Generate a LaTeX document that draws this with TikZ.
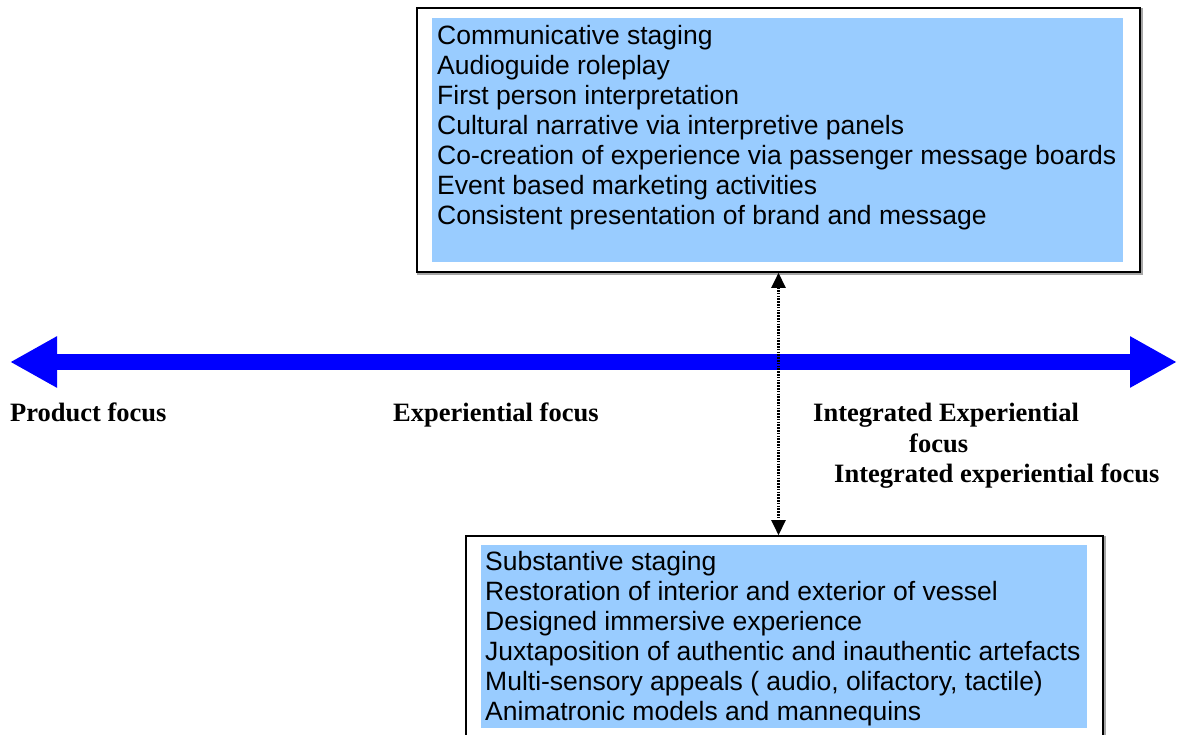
\documentclass[tikz,border=0pt]{standalone}
\usepackage{fontspec}
\setmainfont{Liberation Serif}
\setsansfont{Liberation Sans}
\usetikzlibrary{arrows.meta,positioning}
\definecolor{stagefill}{RGB}{153,204,255}
\definecolor{axisblue}{RGB}{0,0,255}
\tikzset{
  framebox/.style={draw=black, line width=1.6pt, inner sep=0pt},
  shadowline/.style={draw=black!35, line width=1.2pt},
  stagefillbox/.style={fill=stagefill, inner sep=0pt},
  itemtext/.style={anchor=base west, inner sep=0pt, font=\sffamily\fontsize{26.5}{30}\selectfont},
  focuslabel/.style={anchor=base west, inner sep=0pt, font=\bfseries\fontsize{26.5}{30}\selectfont},
  axisarrow/.style={axisblue, line width=16pt,
    {Triangle[length=47pt,width=48pt]}-{Triangle[length=47pt,width=48pt]}},
  link/.style={dash pattern=on 1.6pt off 1.2pt, line width=2.4pt,
    {Triangle[length=15pt,width=14pt]}-{Triangle[length=15pt,width=14pt]}}
}
\begin{document}
\begin{tikzpicture}[x=1pt, y=-1pt]
  \useasboundingbox (0,0) rectangle (1177,735);

  % the two staging boxes
  \node[framebox, minimum width=723pt, minimum height=264pt] (commbox) at (778.5,140) {};
  \node[framebox, minimum width=637pt, minimum height=230pt] (substbox) at (784.5,651) {};
  \draw[shadowline] ([shift={(1.2,1)}]commbox.north east) -- ([shift={(1.2,1.2)}]commbox.south east) -- ([shift={(1,1.2)}]commbox.south west);
  \draw[shadowline] ([shift={(1.2,1)}]substbox.north east) -- ([shift={(1.2,1.2)}]substbox.south east);
  \node[stagefillbox, minimum width=691pt, minimum height=244pt] (commfill) at (777.5,140) {};
  \node[stagefillbox, minimum width=606pt, minimum height=183pt] (substfill) at (784,636.5) {};

  \foreach \t [count=\i] in {Communicative staging, Audioguide roleplay,
      First person interpretation, Cultural narrative via interpretive panels,
      Co-creation of experience via passenger message boards,
      Event based marketing activities, Consistent presentation of brand and message} {
    \node[itemtext] (comm-\i) at (437,{45+30*(\i-1)}) {\t};
  }

  \foreach \t [count=\i] in {Substantive staging, Restoration of interior and exterior of vessel,
      Designed immersive experience, Juxtaposition of authentic and inauthentic artefacts,
      {Multi-sensory appeals ( audio, olifactory, tactile)}, Animatronic models and mannequins} {
    \node[itemtext] (subst-\i) at (485,{570+30*(\i-1)}) {\t};
  }

  % focus axis
  \draw[axisarrow] (10,362) -- (1177,362);
  \node[focuslabel] (prodlabel) at (10,421) {Product focus};
  \node[focuslabel] (explabel) at (393,421) {Experiential focus};
  \node[focuslabel] (intlabel) at (813,421) {Integrated Experiential};
  \node[focuslabel] (intfocus) at (909,452) {focus};
  \node[focuslabel] (intlabel2) at (834,482) {Integrated experiential focus};

  \draw[link] (commbox.south) -- (commbox.south |- substbox.north);
\end{tikzpicture}
\end{document}
